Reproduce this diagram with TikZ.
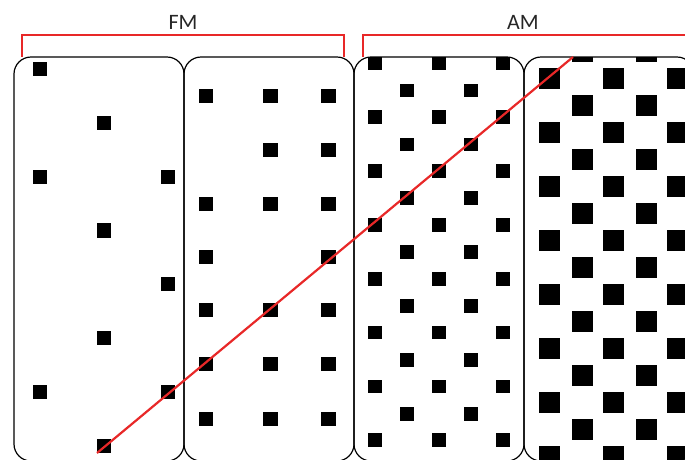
\documentclass[tikz,border=0pt]{standalone}
\usepackage{fontspec}
\setmainfont{Carlito}
\definecolor{mred}{RGB}{232,40,40}
\newcommand\msq[3]{\fill ({#1-#3/2},{#2-#3/2}) rectangle ++(#3,#3);}
\begin{document}
\begin{tikzpicture}[x=1pt,y=-1pt,
  panel/.style={draw=black, line width=1.2pt, rounded corners=17pt},
  bracket/.style={draw=mred, line width=1.4pt},
  redline/.style={draw=mred, line width=2.2pt},
  lbl/.style={font=\fontsize{22}{26}\selectfont, text=black!85, inner sep=0pt}]
\useasboundingbox (0,0) rectangle (685,459);
% panel 1
\begin{scope}
\clip[rounded corners=17pt] (14,57) rectangle (184,461);
\foreach \x/\y in {40/69, 104/123, 40/177, 168/177, 104/230.5, 168/284, 104/338, 40/392, 168/392, 104/446}
  {\msq{\x}{\y}{14.5}}
\end{scope}
% panel 2
\begin{scope}
\clip[rounded corners=17pt] (184,57) rectangle (354,461);
\foreach \x/\y in {206/96, 270.5/96, 328.5/96,
  270.5/150, 328.5/150,
  206/204, 270.5/204, 328.5/204,
  206/257, 328.5/257,
  206/310, 270.5/310, 328.5/310,
  206/364, 270.5/364, 328.5/364,
  206/419, 270.5/419, 328.5/419}
  {\msq{\x}{\y}{14.5}}
\end{scope}
% panel 3
\begin{scope}
\clip[rounded corners=17pt] (354,57) rectangle (524,461);
\foreach \k in {0,...,7}{
  \foreach \x in {375,439,503}{\msq{\x}{63+53.9*\k}{13.8}}
  \foreach \x in {407,471}{\msq{\x}{90.5+53.9*\k}{13.8}}
}
\end{scope}
% panel 4
\begin{scope}
\clip[rounded corners=17pt] (524,57) rectangle (694,461);
\foreach \k in {0,...,7}{
  \foreach \x in {549.5,613.5,677.5}{\msq{\x}{78.5+54*\k}{21}}
  \foreach \x in {582,646,710}{\msq{\x}{51+54*\k}{21}}
}
\end{scope}
% panel borders
\draw[panel] (14,57) rectangle (184,461);
\draw[panel] (184,57) rectangle (354,461);
\draw[panel] (354,57) rectangle (524,461);
\draw[panel] (524,57) rectangle (694,461);
% brackets
\draw[bracket] (22,57) -- (22,35) -- (344,35) -- (344,57);
\draw[bracket] (363,57) -- (363,35) -- (690,35);
\node[lbl] (fm) at (183,22) {FM};
\node[lbl] (am) at (523,22) {AM};
% red line
\coordinate (ls) at (97,453);
\coordinate (le) at (573,57);
\draw[redline] (ls) -- (le);
\end{tikzpicture}
\end{document}
